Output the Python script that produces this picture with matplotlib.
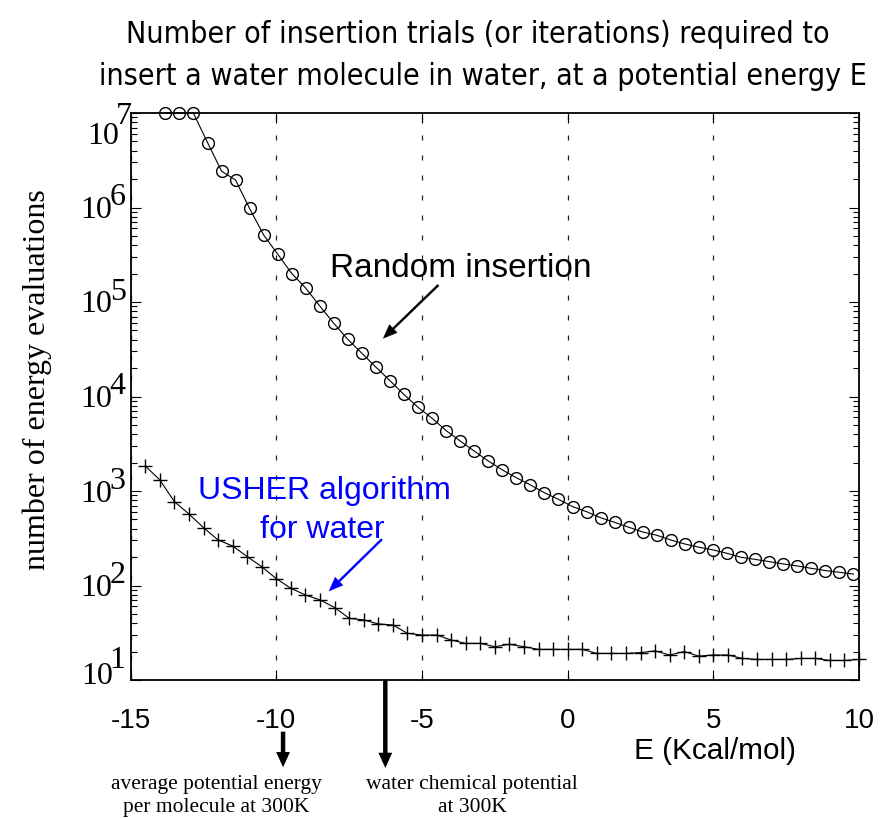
import matplotlib
matplotlib.use('Agg')
import matplotlib.pyplot as plt
from matplotlib import font_manager
from matplotlib.font_manager import FontProperties
from matplotlib.ticker import LogLocator, NullFormatter

# random insertion: energy (kcal/mol) and number of trials
energy_random = [-13.81, -13.33, -12.85, -12.36, -11.88, -11.40, -10.92, -10.43, -9.95, -9.47,
                 -8.99, -8.51, -8.03, -7.55, -7.06, -6.58, -6.10, -5.62, -5.14, -4.65,
                 -4.17, -3.69, -3.21, -2.72, -2.24, -1.76, -1.28, -0.80, -0.32, 0.17,
                 0.65, 1.13, 1.61, 2.10, 2.58, 3.06, 3.54, 4.02, 4.51, 4.99,
                 5.47, 5.95, 6.43, 6.92, 7.40, 7.88, 8.36, 8.84, 9.33, 9.81]
trials_random = [1.0e7, 1.0e7, 1.0e7, 4.85e6, 2.42e6, 1.95e6, 9.77e5, 5.08e5, 3.20e5, 2.00e5,
                 1.40e5, 9.08e4, 5.96e4, 4.03e4, 2.86e4, 2.04e4, 1.47e4, 1.05e4, 7690, 5870,
                 4350, 3380, 2650, 2070, 1670, 1380, 1160, 959, 817, 683,
                 604, 521, 466, 413, 368, 340, 303, 275, 254, 238,
                 219, 199, 189, 179, 169, 161, 152, 144, 138, 132]

# USHER algorithm
energy_usher = [-14.5, -14.0, -13.5, -13.0, -12.5, -12.0, -11.5, -11.0, -10.5, -10.0,
                -9.5, -9.0, -8.5, -8.0, -7.5, -7.0, -6.5, -6.0, -5.5, -5.0,
                -4.5, -4.0, -3.5, -3.0, -2.5, -2.0, -1.5, -1.0, -0.5, 0.0,
                0.5, 1.0, 1.5, 2.0, 2.5, 3.0, 3.5, 4.0, 4.5, 5.0,
                5.5, 6.0, 6.5, 7.0, 7.5, 8.0, 8.5, 9.0, 9.5, 10.0]
trials_usher = [1840, 1310, 771, 571, 409, 303, 262, 202, 158, 118,
                93.3, 79.3, 70.3, 58.5, 45.0, 43.2, 39.2, 38.2, 31.2, 29.9,
                29.9, 26.5, 24.4, 24.4, 22.5, 23.9, 22.5, 21.1, 21.1, 21.1,
                21.1, 19.1, 19.1, 19.1, 19.5, 20.3, 18.4, 20.0, 17.9, 18.4,
                18.4, 16.9, 16.5, 16.5, 16.5, 16.9, 16.9, 16.1, 16.1, 16.5]

xtick_values = [-15, -10, -5, 0, 5, 10]
xtick_labels = ['-15', '-10', '-5', '0', '5', '10']
decades = [1, 2, 3, 4, 5, 6, 7]

# markers on the energy axis
mean_energy = -9.77
chem_potential = -6.26

SANS = 'Liberation Sans'
SERIF = 'Liberation Serif'


def narrow_font():
    # look for any condensed sans face; plain Liberation Sans otherwise
    tries = [('Liberation Sans Narrow', 'normal'), ('Noto Sans', 'condensed'),
             ('Noto Sans Condensed', 'normal'), ('DejaVu Sans', 'condensed'),
             ('DejaVu Sans Condensed', 'normal'), ('Roboto Condensed', 'normal'),
             ('Open Sans', 'condensed'), ('Open Sans Condensed', 'normal')]
    for fam, st in tries:
        fp = FontProperties(family=fam, stretch=st)
        try:
            path = font_manager.findfont(fp, fallback_to_default=False)
        except ValueError:
            continue
        name = path.lower()
        if 'narrow' in name or 'condensed' in name:
            return FontProperties(fname=path)
    return FontProperties(family=SANS)


W, H = 880, 818
fig = plt.figure(figsize=(W / 100, H / 100), dpi=100)
ax = fig.add_axes([130.7 / W, 1 - 680 / H, (859 - 130.7) / W, (680 - 113) / H])

ax.plot(energy_random, trials_random, color='k', lw=0.8, marker='o', ms=8.5,
        mfc='none', mec='k', mew=1.0, clip_on=False, zorder=3)
ax.plot(energy_usher, trials_usher, color='k', lw=0.8, marker='+', ms=10,
        mew=1.0, clip_on=False, zorder=3)

ax.set_yscale('log')
ax.set_xlim(-15, 10)
ax.set_ylim(10, 1e7)
ax.set_xticks(xtick_values)
ax.set_xticklabels(xtick_labels, fontfamily=SANS, fontsize=20)
ax.yaxis.set_major_locator(LogLocator(base=10, numticks=10))
ax.yaxis.set_minor_locator(LogLocator(base=10, subs=range(2, 10), numticks=20))
ax.yaxis.set_major_formatter(NullFormatter())
ax.yaxis.set_minor_formatter(NullFormatter())
ax.tick_params(which='both', direction='in', top=True, right=True, width=0.8)
ax.tick_params(which='major', length=7)
ax.tick_params(which='minor', length=4)
ax.tick_params(axis='x', pad=20)
ax.grid(axis='x', color='#222222', lw=0.9, linestyle=(0, (4, 12)))
for s in ax.spines.values():
    s.set_linewidth(1.3)

# y tick labels: "10" with a full-size exponent
for d in decades:
    if d == 7:
        bx, by, ex, ey = -12, -23, -15, -4
    elif d == 1:
        bx, by, ex, ey = -18, 4, -21, 19
    else:
        bx, by, ex, ey = -19, -3, -21, 10
    ax.annotate('10', xy=(0, 10 ** d), xycoords=('axes fraction', 'data'),
                xytext=(bx, by), textcoords='offset pixels', ha='right', va='center',
                fontfamily=SERIF, fontsize=23, annotation_clip=False)
    ax.annotate(str(d), xy=(0, 10 ** d), xycoords=('axes fraction', 'data'),
                xytext=(ex, ey), textcoords='offset pixels', ha='left', va='center',
                fontfamily=SERIF, fontsize=23, annotation_clip=False)

fig.text(37 / W, 1 - 380 / H, 'number of energy evaluations', rotation=90,
         ha='center', va='center', fontfamily=SERIF, fontsize=23)

nfp = narrow_font()
title1 = fig.text(478 / W, 1 - 43 / H,
                  'Number of insertion trials (or iterations) required to',
                  ha='center', va='baseline', fontproperties=nfp.copy())
title2 = fig.text(483 / W, 1 - 85 / H,
                  'insert a water molecule in water, at a potential energy E',
                  ha='center', va='baseline', fontproperties=nfp.copy())
elabel = fig.text(796 / W, 1 - 759 / H, 'E (Kcal/mol)', ha='right', va='baseline',
                  fontfamily=SANS)

# size these texts to their printed widths (pixels)
renderer = fig.canvas.get_renderer()
for t, width in [(title1, 703), (title2, 765), (elabel, 162)]:
    t.set_fontsize(20)
    w = t.get_window_extent(renderer).width
    t.set_fontsize(20 * width / w)

# curve labels
ax.text(-3.66, 1.85e5, 'Random insertion', ha='center', va='baseline',
        fontfamily=SANS, fontsize=24)
ax.annotate('', xy=(-6.33, 4.13e4), xytext=(-4.44, 1.51e5),
            arrowprops=dict(width=1.4, headwidth=8, headlength=10, facecolor='k',
                            edgecolor='k', lw=0.3))
ax.text(-8.36, 817, 'USHER algorithm', ha='center', va='baseline',
        fontfamily=SANS, fontsize=23, color='#0000ff')
ax.text(-8.41, 316, 'for water', ha='center', va='baseline',
        fontfamily=SANS, fontsize=23, color='#0000ff')
ax.annotate('', xy=(-8.19, 87.5), xytext=(-6.38, 308),
            arrowprops=dict(width=1.4, headwidth=8, headlength=10, facecolor='#0000ff',
                            edgecolor='#0000ff', lw=0.3))

# energy markers below the axis
ax.annotate('', xy=(mean_energy, 50.7), xycoords=('data', 'figure pixels'),
            xytext=(mean_energy, 86.3), textcoords=('data', 'figure pixels'),
            arrowprops=dict(width=3.2, headwidth=10, headlength=11, facecolor='k',
                            edgecolor='k', lw=0), annotation_clip=False)
ax.annotate('', xy=(chem_potential, 50), xycoords=('data', 'figure pixels'),
            xytext=(chem_potential, 138), textcoords=('data', 'figure pixels'),
            arrowprops=dict(width=3.2, headwidth=10, headlength=11, facecolor='k',
                            edgecolor='k', lw=0), annotation_clip=False)

fig.text(216 / W, 1 - 789 / H, 'average potential energy', ha='center', va='baseline',
         fontfamily=SERIF, fontsize=15.5)
fig.text(216 / W, 1 - 812 / H, 'per molecule at 300K', ha='center', va='baseline',
         fontfamily=SERIF, fontsize=15.5)
fig.text(472 / W, 1 - 789 / H, 'water chemical potential', ha='center', va='baseline',
         fontfamily=SERIF, fontsize=15.5)
fig.text(472 / W, 1 - 812 / H, 'at 300K', ha='center', va='baseline',
         fontfamily=SERIF, fontsize=15.5)

fig.savefig('out.png', dpi=100)
